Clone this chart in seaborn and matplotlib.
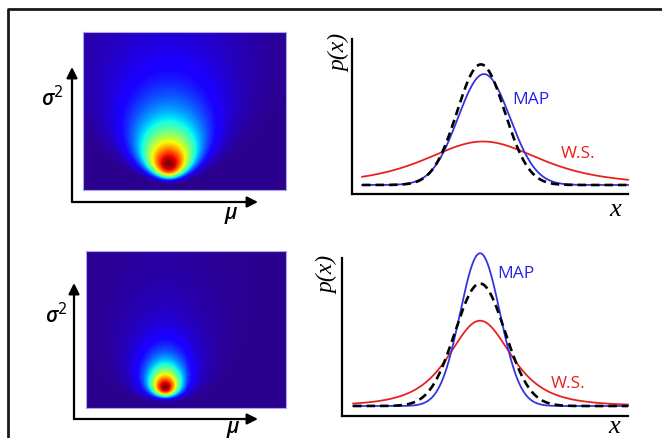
import math
import numpy as np
import pandas as pd
import matplotlib
matplotlib.use("Agg")
import matplotlib.pyplot as plt
from matplotlib.lines import Line2D
from matplotlib.patches import FancyArrowPatch
from matplotlib.colors import ListedColormap
import seaborn as sns

W, H = 662, 439

# ---- posterior surface over (mu, sigma^2), one per row.
# Each row is a blend of a sharp and a broad inverse-gamma shaped bump sharing
# the same mode; mu spans -1..1 across the box, sigma^2 spans 0..1.
post_mode_mu = [-0.155, -0.21]
post_mode_var = [0.165, 0.134]
post_shape = [3.0, 5.5]           # sharp component: inverse-gamma shape
post_mu_prec = [1.7, 8.0]         # sharp component: precision factor on mu
broad_shape = [2.3, 2.5]          # broad component
broad_mu_prec = [1.3, 2.2]
broad_weight = [0.3, 0.28]
spread_power = [1.4, 1.0]         # how fast the mu-spread grows with sigma^2

# ---- predictive densities p(x): location / scale per row
true_loc = [-0.08, 0.0]
true_scale = [0.92, 0.96]
map_loc = [0.04, 0.0]
map_scale = [1.00, 0.77]
ws_loc = [0.0, 0.0]
ws_scale = [2.35, 1.27]
ws_df = [3, 3]

curve_span = [(-4.65, 5.58), (-4.88, 5.69)]
x_limits = [(-5.04, 5.58), (-5.31, 5.69)]
y_limits = [(-0.0324, 0.525), (-0.0339, 0.502)]

labels_map = "MAP"
labels_ws = "W.S."


def gauss_pdf(x, m, s):
    return np.exp(-0.5 * ((x - m) / s) ** 2) / (s * math.sqrt(2 * math.pi))


def t_pdf(x, m, s, nu):
    c = math.gamma((nu + 1) / 2) / (math.sqrt(nu * math.pi) * math.gamma(nu / 2))
    u = (x - m) / s
    return c * (1 + u * u / nu) ** (-(nu + 1) / 2) / s


def ig_bump(MU, V, m, vstar, k, lam, p):
    r = V / vstar
    return np.exp(-k * (np.log(r) + 1 / r - 1) - lam * (MU - m) ** 2 / V ** p)


def posterior_surface(i, ncols=203, nrows=158):
    mu = np.linspace(-1, 1, ncols)
    v = np.linspace(1, 0.004, nrows)
    MU, V = np.meshgrid(mu, v)
    m, vs, p = post_mode_mu[i], post_mode_var[i], spread_power[i]
    w = broad_weight[i]
    return ((1 - w) * ig_bump(MU, V, m, vs, post_shape[i], post_mu_prec[i], p)
            + w * ig_bump(MU, V, m, vs, broad_shape[i], broad_mu_prec[i], p))


# jet with a slightly violet low end
_jet = plt.get_cmap("jet")(np.linspace(0, 1, 256))
_t = np.linspace(0, 1, 256)
_jet[:, 0] = np.clip(_jet[:, 0] + 0.17 * np.clip(1 - _t / 0.3, 0, 1), 0, 1)
_jet[:, 2] = np.clip(_jet[:, 2] + 0.06 * np.clip(1 - _t / 0.12, 0, 1), 0, 1)
heat_cmap = ListedColormap(_jet)

fig = plt.figure(figsize=(W / 100, H / 100), dpi=100)
fig.patch.set_facecolor("white")


def fig_axes(x0, y0, x1, y1):
    """axes from an image-pixel box (top-left origin)"""
    return fig.add_axes([x0 / W, 1 - y1 / H, (x1 - x0) / W, (y1 - y0) / H])


def px(x, y):
    return (x, H - y)


# outer frame (left and top edges)
fig.add_artist(Line2D([8 / W, 8 / W, 1.0], [0.0, 1 - 10 / H, 1 - 10 / H],
                      transform=fig.transFigure, color="#1a1a1a", lw=2.0))

heat_boxes = [(83, 33, 286, 191), (86, 252, 286, 409)]
arrow_origin = [(72, 203), (74, 420)]
arrow_up = [68, 284]
arrow_right = [258, 258]
sigma_pos = [(52, 99), (56, 316)]
mu_pos = [(231, 214), (233, 428)]

line_boxes = [(352, 40, 628, 195), (342, 259, 628, 417)]
px_label_pos = [(340, 53), (328, 275)]
x_label_pos = [(615, 210), (614, 427)]
map_pos = [(531, 100), (516, 274)]
ws_pos = [(578, 154), (568, 384)]

for r in range(2):
    # ---- heatmap of the posterior
    ax = fig_axes(*heat_boxes[r])
    Z = posterior_surface(r)
    sns.heatmap(pd.DataFrame(Z), ax=ax, cmap=heat_cmap, vmin=0, vmax=1, cbar=False,
                xticklabels=False, yticklabels=False, rasterized=True)
    ax.set_xticks([]); ax.set_yticks([])
    for sp in ax.spines.values():
        sp.set_visible(True)
        sp.set_color("#a8a8f0")
        sp.set_linewidth(0.8)

    ox, oy = arrow_origin[r]
    arrow_kw = dict(arrowstyle="-|>", lw=1.6, color="black", mutation_scale=16,
                    shrinkA=0, shrinkB=0)
    fig.add_artist(FancyArrowPatch(px(ox, oy), px(ox, arrow_up[r]),
                                   transform=None, **arrow_kw))
    fig.add_artist(FancyArrowPatch(px(ox, oy), px(arrow_right[r], oy),
                                   transform=None, **arrow_kw))
    fig.text(sigma_pos[r][0] / W, 1 - sigma_pos[r][1] / H, r"σ$^{2}$",
             fontsize=15, family="Open Sans", style="italic", weight="semibold",
             ha="center", va="center")
    fig.text(mu_pos[r][0] / W, 1 - mu_pos[r][1] / H, "μ",
             fontsize=15, family="Open Sans", style="italic", weight="semibold",
             ha="center", va="center")

    # ---- predictive densities
    ax2 = fig_axes(*line_boxes[r])
    xs = np.linspace(curve_span[r][0], curve_span[r][1], 600)
    ws = t_pdf(xs, ws_loc[r], ws_scale[r], ws_df[r])
    mp = gauss_pdf(xs, map_loc[r], map_scale[r])
    tr = gauss_pdf(xs, true_loc[r], true_scale[r])
    sns.lineplot(x=xs, y=ws, ax=ax2, color="#e8221e", lw=1.3, sort=False, clip_on=False)
    sns.lineplot(x=xs, y=mp, ax=ax2, color="#3434e0", lw=1.3, sort=False, clip_on=False)
    sns.lineplot(x=xs, y=tr, ax=ax2, color="black", lw=1.9,
                 linestyle=(0, (3.2, 1.9)), sort=False, clip_on=False)
    ax2.set_xlim(*x_limits[r]); ax2.set_ylim(*y_limits[r])
    ax2.set_xticks([]); ax2.set_yticks([])
    ax2.set_xlabel(""); ax2.set_ylabel("")
    ax2.set_facecolor("none")
    for side in ("top", "right"):
        ax2.spines[side].set_visible(False)
    for side in ("left", "bottom"):
        ax2.spines[side].set_color("black")
        ax2.spines[side].set_linewidth(1.6)

    fig.text(px_label_pos[r][0] / W, 1 - px_label_pos[r][1] / H, "p(x)",
             fontsize=17, family="Liberation Serif", style="italic",
             rotation=90, ha="center", va="center")
    fig.text(x_label_pos[r][0] / W, 1 - x_label_pos[r][1] / H, "x",
             fontsize=19, family="Liberation Serif", style="italic",
             ha="center", va="center")
    fig.text(map_pos[r][0] / W, 1 - map_pos[r][1] / H, labels_map,
             fontsize=12.5, family="Open Sans", color="#2424e8",
             ha="center", va="center")
    fig.text(ws_pos[r][0] / W, 1 - ws_pos[r][1] / H, labels_ws,
             fontsize=12.5, family="Open Sans", color="#e8221e",
             ha="center", va="center")

fig.savefig("out.png", dpi=100, facecolor="white")
